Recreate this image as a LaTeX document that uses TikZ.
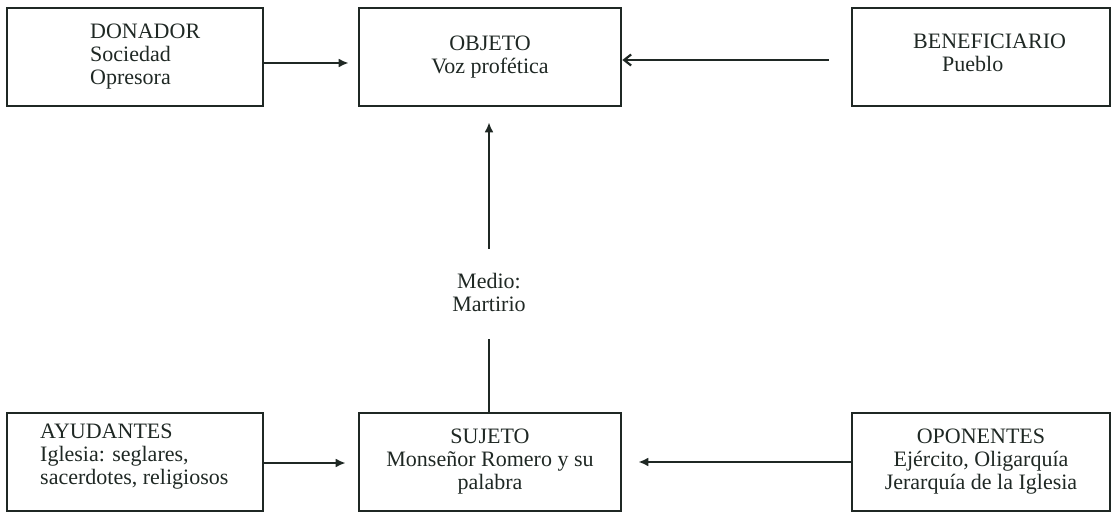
\documentclass[tikz,border=0pt]{standalone}
\usepackage{fontspec}
\setmainfont{Liberation Serif}
\usetikzlibrary{arrows.meta}
\definecolor{ink}{RGB}{31,40,36}
\begin{document}
\begin{tikzpicture}[x=1pt, y=-1pt, color=ink,
  box/.style={draw, line width=2.7pt, rectangle, inner sep=0pt, minimum width=#1, minimum height=98pt},
  txt/.style={font=\fontsize{22}{23}\selectfont, inner sep=0pt},
  conn/.style={line width=2.2pt, -{Latex[length=10pt,width=9pt]}},
  every node/.style={text=ink}]
\useasboundingbox (0,0) rectangle (1114,513);
% Top row
\node[box=256pt] (donador) at (135,57) {};
\node[txt, anchor=west, align=left] (donadortxt) at (90,57) {DONADOR\\Sociedad\\Opresora};
\node[box=262pt, txt, align=center] (objeto) at (490,57) {OBJETO\\Voz profética};
\node[box=258pt] (beneficiario) at (981,57) {};
\node[txt, anchor=west, align=left] (beneficiariotxt) at (913,53) {BENEFICIARIO\\\hspace*{29pt}Pueblo};

% Bottom row
\node[box=256pt] (ayudantes) at (135,462) {};
\node[txt, anchor=west, align=left] (ayudantestxt) at (40,457) {AYUDANTES\\Iglesia: seglares,\\sacerdotes, religiosos};
\node[box=262pt, txt, align=center] (sujeto) at (490,462) {SUJETO\\Monseñor Romero y su\\palabra};
\node[box=258pt, txt, align=center] (oponentes) at (981,462) {OPONENTES\\Ejército, Oligarquía\\Jerarquía de la Iglesia};

% Middle label
\node[txt, align=center] (medio) at (489,292) {Medio:\\Martirio};

% Connections
\draw[conn, shorten >=9pt] (donador.east |- 0,63) -- (objeto.west |- 0,63);
\draw[conn, -{Straight Barb[length=7pt,width=11pt]}, shorten <=22pt] (beneficiario.west |- 0,60) -- (objeto.east |- 0,60);
\draw[conn, shorten >=12pt] (ayudantes.east |- 0,463) -- (sujeto.west |- 0,463);
\draw[conn, shorten >=16pt] (oponentes.west |- 0,462) -- (sujeto.east |- 0,462);
\draw[line width=2.2pt, shorten >=28pt] (sujeto.north -| medio) -- (medio.south);
\draw[conn, shorten <=24pt, shorten >=15pt] (medio.north) -- (objeto.south -| medio);
\end{tikzpicture}
\end{document}
